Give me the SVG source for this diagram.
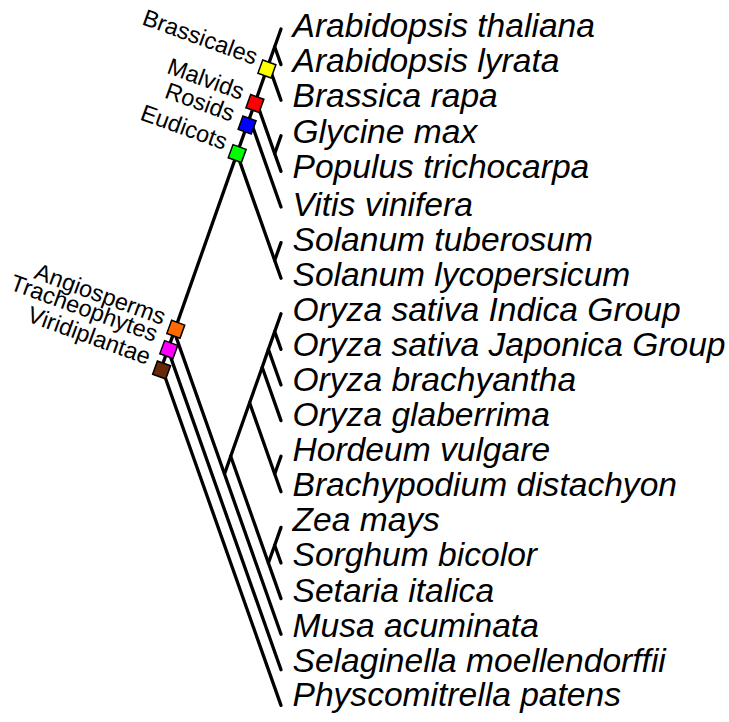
<svg xmlns="http://www.w3.org/2000/svg" width="729" height="722" viewBox="0 0 729 722">
<style>
.e{stroke:#000;stroke-width:3.3;fill:none;stroke-linecap:round}
.sp{font-family:"Liberation Sans",Arial,sans-serif;font-style:italic;font-size:33.6px;fill:#000}
.cl{font-family:"Liberation Sans",Arial,sans-serif;font-size:23.5px;fill:#000;text-anchor:end}
.sq{stroke:#000;stroke-width:1.5}
</style>
<rect width="729" height="722" fill="#fff"/>
<g id="connectors">
<path class="e" d="M161.6,367.2L167.9,349.4M161.6,367.2L281,705.4"/>
<path class="e" d="M167.9,349.4L174.2,331.6M167.9,349.4L281,669.8"/>
<path class="e" d="M174.2,331.6L237.0,153.6M174.2,331.6L224.5,474"/>
<path class="e" d="M224.5,474L230.7,456.2M224.5,474L281,634.2"/>
<path class="e" d="M230.7,456.2L249.6,402.8M230.7,456.2L268.4,563"/>
<path class="e" d="M249.6,402.8L262.2,367.2M249.6,402.8L274.7,474"/>
<path class="e" d="M262.2,367.2L268.4,349.4M262.2,367.2L281,420.6"/>
<path class="e" d="M268.4,349.4L274.7,331.6M268.4,349.4L281,385"/>
<path class="e" d="M274.7,331.6L281,313.8M274.7,331.6L281,349.4"/>
<path class="e" d="M274.7,474L281,456.2M274.7,474L281,491.8"/>
<path class="e" d="M268.4,563L274.7,545.2M268.4,563L281,598.6"/>
<path class="e" d="M274.7,545.2L281,527.4M274.7,545.2L281,563"/>
<path class="e" d="M237.0,153.6L249.6,118M237.0,153.6L274.7,260.4"/>
<path class="e" d="M274.7,260.4L281,242.6M274.7,260.4L281,278.2"/>
<path class="e" d="M249.6,118L255.9,100.2M249.6,118L281,207"/>
<path class="e" d="M255.9,100.2L268.4,64.6M255.9,100.2L274.7,153.6"/>
<path class="e" d="M274.7,153.6L281,135.8M274.7,153.6L281,171.4"/>
<path class="e" d="M268.4,64.6L274.7,46.8M268.4,64.6L281,100.2"/>
<path class="e" d="M274.7,46.8L281,29M274.7,46.8L281,64.6"/>
</g>
<g id="leaves">
<text class="sp" x="292.5" y="36.7">Arabidopsis thaliana</text>
<text class="sp" x="292.5" y="71.7">Arabidopsis lyrata</text>
<text class="sp" x="292.5" y="107.3">Brassica rapa</text>
<text class="sp" x="292.5" y="143.3">Glycine max</text>
<text class="sp" x="292.5" y="178.3">Populus trichocarpa</text>
<text class="sp" x="292.5" y="215.5">Vitis vinifera</text>
<text class="sp" x="292.5" y="251">Solanum tuberosum</text>
<text class="sp" x="292.5" y="286">Solanum lycopersicum</text>
<text class="sp" x="292.5" y="320.5">Oryza sativa Indica Group</text>
<text class="sp" x="292.5" y="355.5">Oryza sativa Japonica Group</text>
<text class="sp" x="292.5" y="390.5">Oryza brachyantha</text>
<text class="sp" x="292.5" y="425.5">Oryza glaberrima</text>
<text class="sp" x="292.5" y="460.5">Hordeum vulgare</text>
<text class="sp" x="292.5" y="495.5">Brachypodium distachyon</text>
<text class="sp" x="292.5" y="530.5">Zea mays</text>
<text class="sp" x="292.5" y="565.5">Sorghum bicolor</text>
<text class="sp" x="292.5" y="602">Setaria italica</text>
<text class="sp" x="292.5" y="637">Musa acuminata</text>
<text class="sp" x="292.5" y="671.5">Selaginella moellendorffii</text>
<text class="sp" x="292.5" y="706">Physcomitrella patens</text>
</g>
<g id="brassicales">
<rect class="sq" fill="#ffff00" x="-7" y="-7" width="14" height="14" transform="translate(266.9,69) rotate(20)"/>
<text class="cl" transform="translate(254,65) rotate(20)">Brassicales</text>
</g>
<g id="malvids">
<rect class="sq" fill="#ff0000" x="-7" y="-7" width="14" height="14" transform="translate(254.9,103.5) rotate(20)"/>
<text class="cl" transform="translate(240.5,100) rotate(20)">Malvids</text>
</g>
<g id="rosids">
<rect class="sq" fill="#0000ff" x="-7" y="-7" width="14" height="14" transform="translate(247.1,125) rotate(20)"/>
<text class="cl" transform="translate(231,121.7) rotate(20)">Rosids</text>
</g>
<g id="eudicots">
<rect class="sq" fill="#00ff00" x="-7" y="-7" width="14" height="14" transform="translate(237.2,153.6) rotate(20)"/>
<text class="cl" transform="translate(223.8,150) rotate(20)">Eudicots</text>
</g>
<g id="angiosperms">
<rect class="sq" fill="#ff6a00" x="-7" y="-7" width="14" height="14" transform="translate(175.8,329.3) rotate(20)"/>
<text class="cl" transform="translate(162,325) rotate(20)">Angiosperms</text>
</g>
<g id="tracheophytes">
<rect class="sq" fill="#ff00ff" x="-7" y="-7" width="14" height="14" transform="translate(168.8,349.6) rotate(20)"/>
<text class="cl" transform="translate(154,342) rotate(20)">Tracheophytes</text>
</g>
<g id="viridiplantae">
<rect class="sq" fill="#662a0a" x="-7" y="-7" width="14" height="14" transform="translate(161.6,370) rotate(20)"/>
<text class="cl" transform="translate(147,365) rotate(20)">Viridiplantae</text>
</g>
</svg>
